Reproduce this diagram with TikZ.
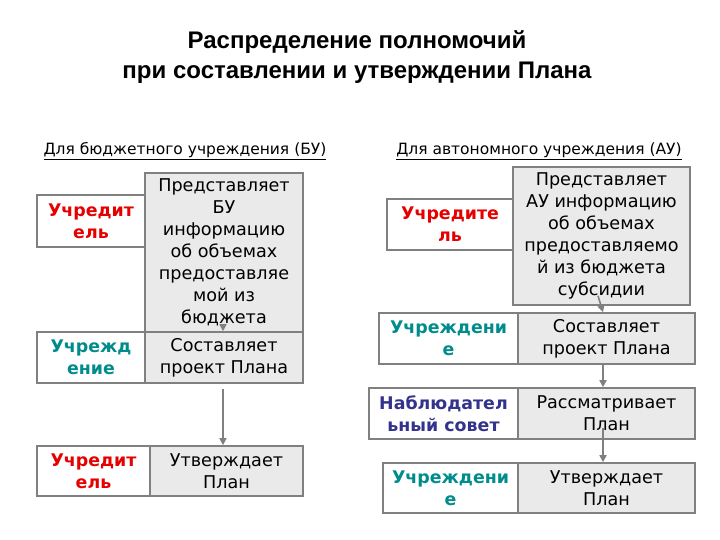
\documentclass[tikz,border=0pt]{standalone}
\usepackage{fontspec}
\setmainfont{DejaVu Sans}
\newfontfamily\arialf{Liberation Sans}
\usetikzlibrary{arrows.meta}
\definecolor{bordergray}{RGB}{128,128,128}
\definecolor{boxfill}{RGB}{234,234,234}
\definecolor{lblred}{RGB}{230,0,0}
\definecolor{lblteal}{RGB}{0,140,140}
\definecolor{lblblue}{RGB}{51,51,140}
\tikzset{
  base/.style={draw=bordergray, line width=1.6pt, inner sep=0pt, align=center, font=\fontsize{17.6}{22}\selectfont},
  lblbox/.style={base, fill=white, font=\fontsize{17.4}{22}\selectfont\bfseries},
  actbox/.style={base, fill=boxfill},
  conn/.style={draw=bordergray, line width=1.6pt, -{Triangle[length=7pt,width=7pt]}},
  heading/.style={font=\fontsize{15.5}{18}\selectfont, inner sep=0pt},
}
\begin{document}
\begin{tikzpicture}[x=1pt,y=-1pt]
\useasboundingbox (0,0) rectangle (720,540);
\node[font=\arialf\bfseries\fontsize{24}{30}\selectfont, align=center] (title) at (357,57) {Распределение полномочий\\при составлении и утверждении Плана};
\node[heading] (hl) at (185,151) {\underline{Для бюджетного учреждения (БУ)}};
\node[heading] (hr) at (539,151) {\underline{Для автономного учреждения (АУ)}};
% left column
\node[lblbox, text=lblred, minimum width=108pt, minimum height=52pt] (l1) at (91,221) {Учредит\\ель};
\node[actbox, minimum width=158pt, minimum height=159pt] (g1) at (224,252.5) {Представляет\\БУ\\информацию\\об объемах\\предоставляе\\мой из\\бюджета};
\node[lblbox, text=lblteal, minimum width=108pt, minimum height=51pt] (l2) at (91,357.5) {Учрежд\\ение};
\node[actbox, minimum width=158pt, minimum height=51pt] (g2) at (224,357.5) {Составляет\\проект Плана};
\node[lblbox, text=lblred, minimum width=113pt, minimum height=50pt] (l3) at (93.5,471) {Учредит\\ель};
\node[actbox, minimum width=153pt, minimum height=50pt] (g3) at (226.5,471) {Утверждает\\План};
\draw[conn] ([yshift=8pt,xshift=-1pt]g1.south) -- ([xshift=-1pt]g2.north);
\draw[conn] ([yshift=-5pt,xshift=-1pt]g2.south) -- ([xshift=-1pt]g2.south |- g3.north);
% right column
\node[lblbox, text=lblred, minimum width=126pt, minimum height=51pt] (r1) at (450,224.5) {Учредите\\ль};
\node[actbox, minimum width=177pt, minimum height=138pt] (rg1) at (601.5,236) {Представляет\\АУ информацию\\об объемах\\предоставляемо\\й из бюджета\\субсидии};
\node[lblbox, text=lblteal, minimum width=139pt, minimum height=51pt] (r2) at (448.5,338.5) {Учреждени\\е};
\node[actbox, minimum width=177pt, minimum height=51pt] (rg2) at (606.5,338.5) {Составляет\\проект Плана};
\node[lblbox, text=lblblue, minimum width=149pt, minimum height=51pt] (r3) at (443.5,413.5) {Наблюдател\\ьный совет};
\node[actbox, minimum width=177pt, minimum height=51pt] (rg3) at (606.5,413.5) {Рассматривает\\План};
\node[lblbox, text=lblteal, minimum width=135pt, minimum height=50pt] (r4) at (450.5,488) {Учреждени\\е};
\node[actbox, minimum width=177pt, minimum height=50pt] (rg4) at (606.5,488) {Утверждает\\План};
\draw[conn] ([yshift=10pt,xshift=-3.5pt]rg1.south) -- ([xshift=-3.5pt]rg2.north);
\draw[conn] ([xshift=-3.5pt]rg2.south) -- ([xshift=-3.5pt]rg3.north);
\draw[conn] ([yshift=12pt,xshift=-3.5pt]rg3.south) -- ([xshift=-3.5pt]rg4.north);
\end{tikzpicture}
\end{document}
